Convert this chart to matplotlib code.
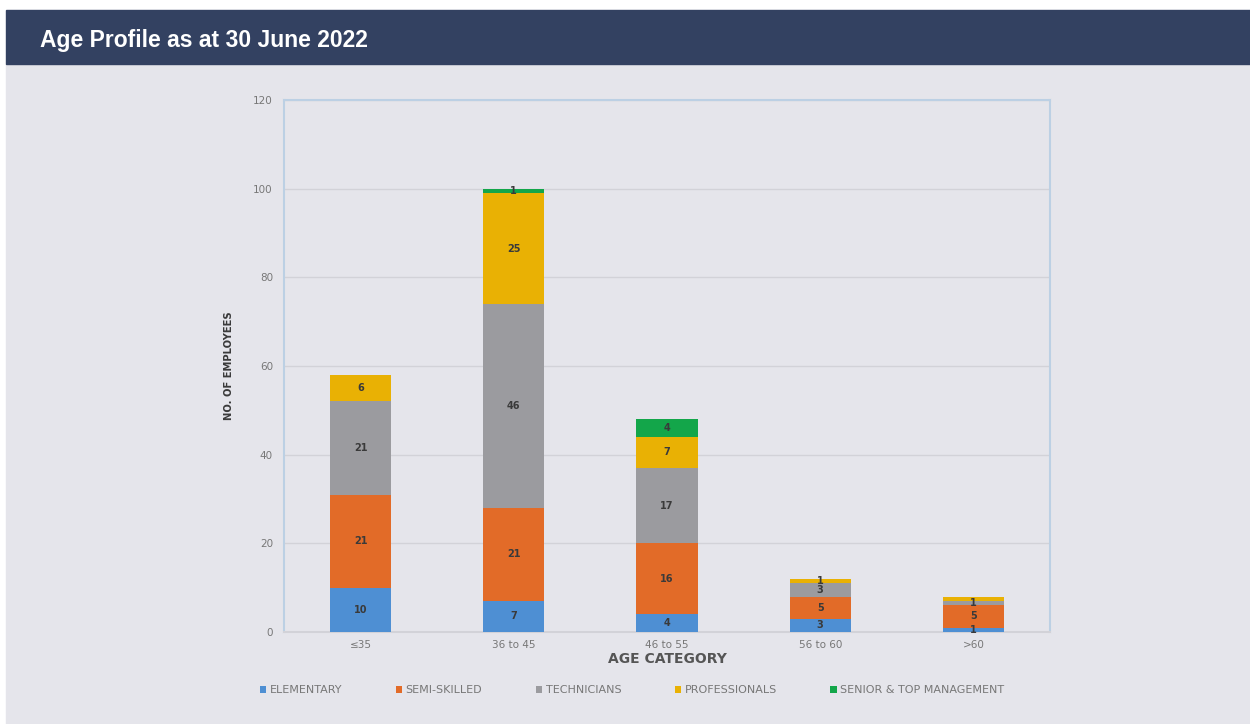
import numpy as np
import matplotlib
matplotlib.use("Agg")
import matplotlib.pyplot as plt
from matplotlib.patches import Rectangle

# Age profile data
categories = ["≤35", "36 to 45", "46 to 55", "56 to 60", ">60"]
elementary = [10, 7, 4, 3, 1]
semi_skilled = [21, 21, 16, 5, 5]
technicians = [21, 46, 17, 3, 1]
professionals = [6, 25, 7, 1, 1]
senior_mgmt = [0, 1, 4, 0, 0]

series_names = ["ELEMENTARY", "SEMI-SKILLED", "TECHNICIANS", "PROFESSIONALS",
                "SENIOR & TOP MANAGEMENT"]
series = [elementary, semi_skilled, technicians, professionals, senior_mgmt]
colors = ["#4e8fd3", "#e26b28", "#9b9b9f", "#e9b104", "#13a64a"]

bg = "#e5e5eb"

fig = plt.figure(figsize=(12.5, 7.24), dpi=100)
fig.patch.set_facecolor("white")

# grey page background and navy header
fig.add_artist(Rectangle((6 / 1250, 0), 1 - 6 / 1250, 1 - 64 / 724,
                         transform=fig.transFigure, color=bg, zorder=0))
fig.add_artist(Rectangle((6 / 1250, 1 - 64 / 724), 1 - 6 / 1250, 54 / 724,
                         transform=fig.transFigure, color="#334161", zorder=0))
fig.text(40 / 1250, 1 - 40 / 724, "Age Profile as at 30 June 2022", color="white",
         fontsize=16.5, fontweight="bold", family="Liberation Sans", va="center")

ax = fig.add_axes([284 / 1250, 1 - 632 / 724, (1050 - 284) / 1250, (632 - 100) / 724])
ax.set_facecolor(bg)

x = np.arange(len(categories))
bottom = np.zeros(len(categories))
prev = np.zeros(len(categories))
for name, vals, c in zip(series_names, series, colors):
    vals = np.array(vals, dtype=float)
    ax.bar(x, vals, 0.4, bottom=bottom, color=c, label=name, zorder=3)
    for xi, b, v, p in zip(x, bottom, vals, prev):
        # skip a thin label sitting right on another thin one (as in the original)
        if v > 0 and not (v <= 1 and p == 1):
            ax.text(xi, b + v / 2, f"{int(v)}", ha="center", va="center",
                    fontsize=7, fontweight="bold", color="#3a3a3a", zorder=4)
    prev = vals
    bottom += vals

ax.set_xlim(-0.5, 4.5)
ax.set_ylim(0, 120)
ax.set_yticks(range(0, 121, 20))
ax.set_xticks(x)
ax.set_xticklabels(categories)
ax.tick_params(axis="both", length=0, labelsize=7.5, colors="#777777", pad=8)
ax.tick_params(axis="x", pad=6)
ax.grid(axis="y", color="#d2d2d8", linewidth=1, zorder=0)
for s in ax.spines.values():
    s.set_color("#bcd0e4")
    s.set_linewidth(1.5)
ax.spines["bottom"].set_color("#d2d2d8")

ax.set_xlabel("AGE CATEGORY", fontsize=10, fontweight="bold", color="#555555", labelpad=1)
ax.set_ylabel("NO. OF EMPLOYEES", fontsize=8, color="#3a3a3a", labelpad=14,
              fontstretch="condensed", fontweight="bold")

leg = fig.legend(loc="center", bbox_to_anchor=(632 / 1250, 1 - 690 / 724), ncol=5,
                 frameon=False, fontsize=8, handlelength=0.6, handleheight=0.6,
                 handletextpad=0.3, columnspacing=4.8)
for t in leg.get_texts():
    t.set_color("#777777")

fig.savefig("out.png", dpi=100, facecolor=fig.get_facecolor())
